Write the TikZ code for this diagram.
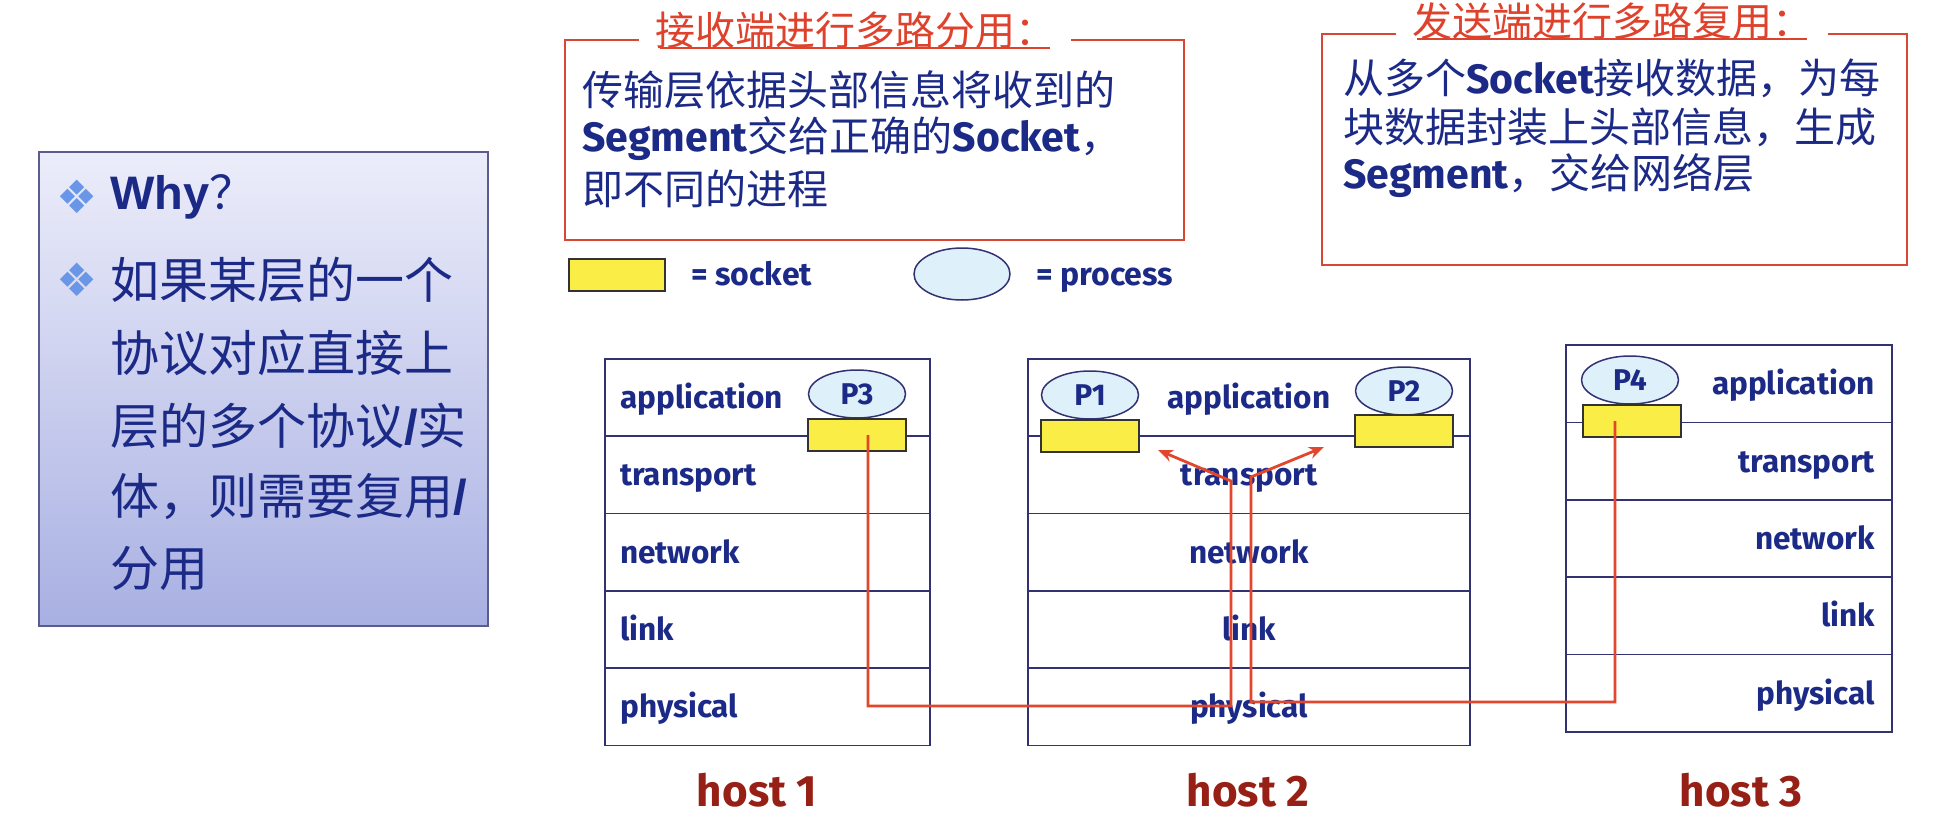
\documentclass[tikz,border=0pt]{standalone}
\usepackage{fontspec}
\setmainfont{Fira Sans}
\newfontfamily\cjk{Noto Sans CJK SC}
\newfontfamily\latf{Fira Sans}
\newfontfamily\arialf{Liberation Sans}
\newfontfamily\dejavu{DejaVu Sans}
\usetikzlibrary{shapes.geometric,arrows.meta,calc}
\definecolor{navy}{RGB}{28,42,135}
\definecolor{framered}{RGB}{214,72,52}
\definecolor{titlered}{RGB}{222,66,44}
\definecolor{linered}{RGB}{226,70,44}
\definecolor{hostred}{RGB}{150,32,22}
\definecolor{boxline}{RGB}{50,50,115}
\definecolor{sockyellow}{RGB}{250,238,70}
\definecolor{procblue}{RGB}{222,240,250}
\definecolor{bulletblue}{RGB}{105,150,230}
\definecolor{whytop}{RGB}{236,237,250}
\definecolor{whybot}{RGB}{168,176,226}
\newcommand\setfs[1]{\fontsize{#1}{#1}\selectfont}
\tikzset{
  layer/.style={draw=boxline, line width=1.6pt, minimum height=77.3pt, inner sep=0pt, outer sep=0pt},
  ltxt/.style={text=navy, font=\setfs{31.5}\bfseries, inner sep=0pt},
  sock/.style={draw=black!80, fill=sockyellow, line width=1.5pt, minimum width=98pt, minimum height=32pt, inner sep=0pt},
  proc/.style={ellipse, draw=boxline, fill=procblue, line width=1.5pt, minimum width=97pt, minimum height=48pt, inner sep=0pt, text=navy, font=\setfs{30}\bfseries},
  redline/.style={draw=linered, line width=2.8pt},
  frame/.style={draw=framered, line width=2.6pt, inner sep=0pt},
  titlebox/.style={fill=white, text=titlered, font=\cjk\setfs{40}, inner xsep=16pt, inner ysep=2pt},
  uline/.style={draw=titlered, line width=2pt},
  body/.style={anchor=west, text=navy, font=\cjk\setfs{41}, inner sep=0pt},
  whytxt/.style={anchor=west, text=navy, font=\cjk\setfs{49}, inner sep=0pt},
  bul/.style={text=bulletblue, font=\dejavu\setfs{46}, inner sep=0pt},
  legtxt/.style={anchor=base west, text=navy, font=\setfs{32}\bfseries, inner sep=0pt},
  hostlab/.style={text=hostred, font=\setfs{44}\bfseries, inner sep=0pt}
}
\begin{document}
\begin{tikzpicture}[x=1pt,y=-1pt]
\useasboundingbox (0,0) rectangle (1960,840);
\fill[white] (0,0) rectangle (1960,840);

% left box
\node[draw=boxline!80, line width=1.5pt, top color=whytop, bottom color=whybot, minimum width=449pt, minimum height=474pt, inner sep=0pt] (why) at (263.5,389) {};
\node[bul] (b1) at (77,197) {❖};
\node[anchor=west, text=navy, inner sep=0pt] (w1) at (110,197) {{\arialf\setfs{47}\bfseries Why}{\cjk\setfs{46}？}};
\node[bul] (b2) at (77,280) {❖};
\node[whytxt] (w2) at (110,280) {如果某层的一个};
\node[whytxt] (w3) at (110,353) {协议对应直接上};
\node[whytxt] (w4) at (110,426) {层的多个协议{\arialf\bfseries /}实};
\node[whytxt] (w5) at (110,497) {体，则需要复用{\arialf\bfseries /}};
\node[whytxt] (w6) at (110,568) {分用};

% middle top box
\node[frame, minimum width=619pt, minimum height=200pt] (fm) at (874.5,140) {};
\node[titlebox] (tm) at (855,30) {接收端进行多路分用：};
\draw[uline] ($(tm.center)+(-195,18)$) -- ($(tm.center)+(195,18)$);
\node[body] (m1) at (582,90) {传输层依据头部信息将收到的};
\node[body] (m2) at (582,139) {{\latf\bfseries Segment}交给正确的{\latf\bfseries Socket}，};
\node[body] (m3) at (582,189) {即不同的进程};

% right top box
\node[frame, minimum width=585pt, minimum height=231pt] (fr) at (1614.5,149.5) {};
\node[titlebox] (tr) at (1612,21) {发送端进行多路复用：};
\draw[uline] ($(tr.center)+(-195,18)$) -- ($(tr.center)+(195,18)$);
\node[body] (r1) at (1343,78) {从多个{\latf\bfseries Socket}接收数据，为每};
\node[body] (r2) at (1343,127) {块数据封装上头部信息，生成};
\node[body] (r3) at (1343,176) {{\latf\bfseries Segment}，交给网络层};

% legend
\node[sock, minimum width=96pt] (ls) at (617,275) {};
\node[legtxt] (lst) at (691,285) {= socket};
\node[proc, minimum width=96pt, minimum height=52pt] (lp) at (962,274) {};
\node[legtxt] (lpt) at (1036,285) {= process};

% host 1
\foreach \n/\y/\t in {a/397.6/application, t/474.9/transport, n/552.2/network, l/629.5/link, p/706.8/physical}{
  \node[layer, minimum width=325pt] (h1\n) at (767.5,\y) {};
  \node[ltxt, anchor=base west] (h1\n t) at (620,\y+11) {\t};
}
% host 2
\foreach \n/\y/\t in {a/397.6/application, t/474.9/transport, n/552.2/network, l/629.5/link, p/706.8/physical}{
  \node[layer, minimum width=442pt] (h2\n) at (1249,\y) {};
  \node[ltxt, anchor=base] (h2\n t) at (1249,\y+11) {\t};
}
% host 3
\foreach \n/\y/\t in {a/383.7/application, t/461.1/transport, n/538.5/network, l/615.9/link, p/693.3/physical}{
  \node[layer, minimum width=326pt] (h3\n) at (1729,\y) {};
  \node[ltxt, anchor=base east] (h3\n t) at (1875,\y+11) {\t};
}

% processes and sockets
\node[proc] (p3) at (857,394) {P3};
\node[sock] (s3) at (857,435) {};
\node[proc] (p1) at (1090,395) {P1};
\node[sock] (s1) at (1090,436) {};
\node[proc] (p2) at (1404,391) {P2};
\node[sock] (s2) at (1404,431) {};
\node[proc] (p4) at (1630,380) {P4};
\node[sock] (s4) at (1632,421) {};

% host labels
\node[hostlab] (l1) at (757,790) {host 1};
\node[hostlab] (l2) at (1248,790) {host 2};
\node[hostlab] (l3) at (1741,790) {host 3};

% red paths
\coordinate (kA) at (1231,706);
\coordinate (tA) at (1231,481);
\coordinate (pA) at (1158,450);
\coordinate (kB) at (1251,702);
\coordinate (tB) at (1251,477);
\coordinate (pB) at (1324,447);
\draw[redline,-{Stealth[length=15pt,width=12pt]}] ([xshift=11pt]s3.center) |- (kA) -- (tA) -- (pA);
\draw[redline,-{Stealth[length=15pt,width=12pt]}] ([xshift=-17pt]s4.center) |- (kB) -- (tB) -- (pB);
\end{tikzpicture}
\end{document}
